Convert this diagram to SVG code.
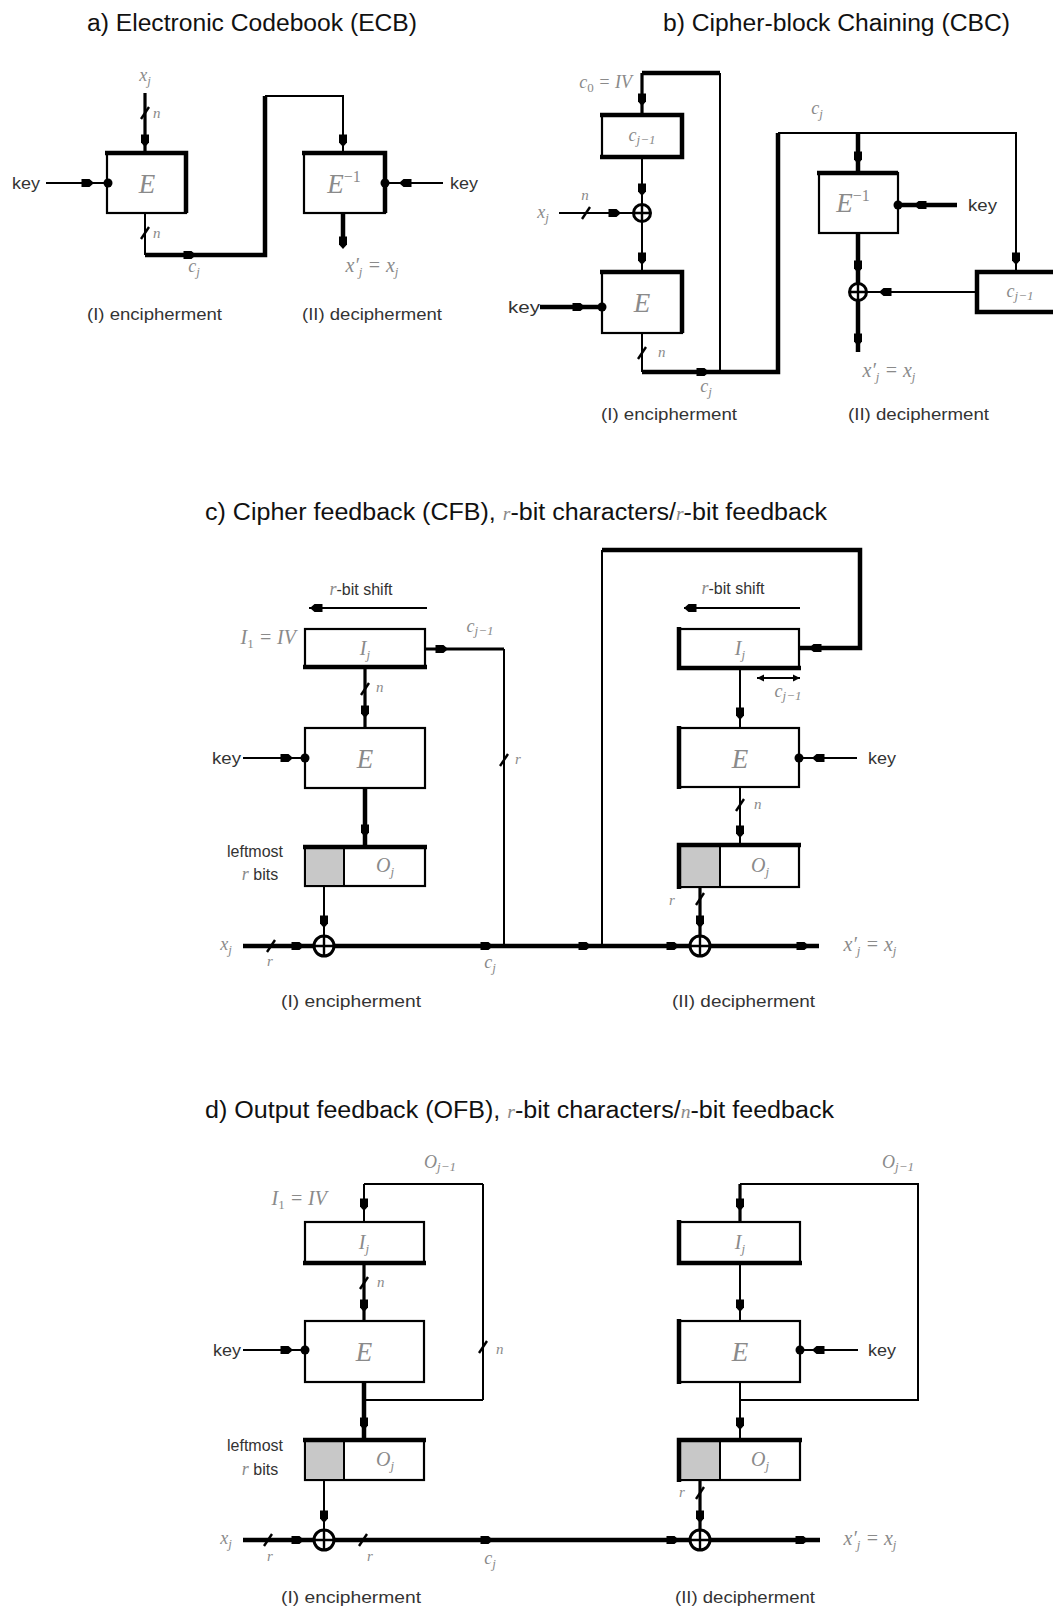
<svg xmlns="http://www.w3.org/2000/svg" xmlns:xlink="http://www.w3.org/1999/xlink" width="1053" height="1611" viewBox="0 0 1053 1611">
<style>
.ln{fill:none;stroke:#000;stroke-width:2}
.md{stroke-width:3.2}
.tk{stroke-width:4.5}
.bx{fill:#fff;stroke:#000;stroke-width:2.2}
.bt{fill:none;stroke:#000;stroke-width:4.5}
.sh{fill:#c8c8c8;stroke:#000;stroke-width:2}
.t{font-family:"Liberation Sans",Arial,sans-serif;fill:#333;font-size:16px}
.ttl{font-family:"Liberation Sans",Arial,sans-serif;fill:#111;font-size:23px}
.m{font-family:"Liberation Serif","Times New Roman",serif;font-style:italic;fill:#8a8a8a;font-size:18px}
.mb{font-size:27px}
.mm{font-size:20px}
.ms{font-size:15px}
.sb{font-size:13px}
.eq{font-size:20px}
.cj{font-size:18px}
.n{font-style:normal}
.xr circle{fill:#fff;stroke:#000;stroke-width:3}
.xr path{fill:none;stroke:#000;stroke-width:2.4}
</style>
<defs>
<path id="mR" d="M-6.5,-4H1.5L6,0L1.5,4H-6.5Z"/>
<path id="mL" d="M6.5,-4H-1.5L-6,0L-1.5,4H6.5Z"/>
<path id="mD" d="M-4,-6.5V1.5L0,6L4,1.5V-6.5Z"/>
<circle id="dot" r="4.5"/>
<path id="sl" d="M-4,6L4,-6" fill="none" stroke="#000" stroke-width="2.4"/>
<g id="xor" class="xr"><circle r="10"/><path d="M-10,0H10M0,-10V10"/></g>
<g id="xor8" class="xr"><circle r="8.5"/><path d="M-8.5,0H8.5M0,-8.5V8.5"/></g>
</defs>
<rect width="1053" height="1611" fill="#fff"/>

<!-- ============ a) ECB ============ -->
<g id="title-a"><text class="ttl" x="87" y="31" textLength="330" lengthAdjust="spacingAndGlyphs">a) Electronic Codebook (ECB)</text></g>
<g id="a-E">
<rect class="bx" x="107" y="153" width="79" height="60"/>
<path class="bt" d="M105,153H186V213"/>
<text class="m mb" x="147" y="193" text-anchor="middle">E</text>
</g>
<g id="a-Einv">
<rect class="bx" x="304" y="153" width="81" height="60"/>
<path class="bt" d="M302,153H385V213"/>
<text class="m mb" x="344" y="193" text-anchor="middle">E<tspan class="n" font-size="16" dy="-11">−1</tspan></text>
</g>
<g id="a-connectors">
<path class="ln md" d="M145,93V153"/>
<use href="#sl" x="145" y="113"/>
<use href="#mD" x="145" y="141"/>
<path class="ln" d="M46,183H107"/>
<use href="#mR" x="88" y="183"/>
<use href="#dot" x="108" y="183"/>
<path class="ln" d="M145,213V255"/>
<use href="#sl" x="145" y="233"/>
<path class="ln tk" d="M145,255H265V96"/>
<path class="ln" d="M265,96H343V153"/>
<use href="#mR" x="190" y="255"/>
<use href="#mD" x="343" y="141"/>
<path class="ln" d="M443,183H385"/>
<use href="#mL" x="405" y="183"/>
<use href="#dot" x="385" y="183"/>
<path class="ln tk" d="M343,213V245"/>
<use href="#mD" x="343" y="243"/>
</g>
<g id="a-labels">
<text class="m" x="145" y="81" text-anchor="middle">x<tspan class="sb" dy="4">j</tspan></text>
<text class="m ms" x="153" y="118">n</text>
<text class="m ms" x="153" y="238">n</text>
<text class="t" x="12" y="189" textLength="28" lengthAdjust="spacingAndGlyphs">key</text>
<text class="t" x="450" y="189" textLength="28" lengthAdjust="spacingAndGlyphs">key</text>
<text class="m" x="194" y="272" text-anchor="middle">c<tspan class="sb" dy="4">j</tspan></text>
<text class="m eq" x="372" y="272" text-anchor="middle">x′<tspan class="sb" dy="4">j</tspan><tspan dy="-4"> = x</tspan><tspan class="sb" dy="4">j</tspan></text>
<text class="t" x="87" y="320" textLength="135" lengthAdjust="spacingAndGlyphs">(I) encipherment</text>
<text class="t" x="302" y="320" textLength="140" lengthAdjust="spacingAndGlyphs">(II) decipherment</text>
</g>

<!-- ============ b) CBC ============ -->
<g id="title-b"><text class="ttl" x="663" y="31" textLength="347" lengthAdjust="spacingAndGlyphs">b) Cipher-block Chaining (CBC)</text></g>
<g id="b-creg1">
<rect class="bx" x="602" y="115" width="80" height="42"/>
<path class="bt" d="M600,115H682V157H600"/>
<text class="m cj" x="642" y="141" text-anchor="middle">c<tspan class="sb" dy="3">j−1</tspan></text>
</g>
<g id="b-xor1"><use href="#xor8" x="642" y="213"/></g>
<g id="b-E">
<rect class="bx" x="602" y="272" width="80" height="61"/>
<path class="bt" d="M600,272H682V333"/>
<text class="m mb" x="642" y="312" text-anchor="middle">E</text>
</g>
<g id="b-Einv">
<rect class="bx" x="819" y="173" width="79" height="60"/>
<path class="bt" d="M817,173H898"/>
<text class="m mb" x="853" y="212" text-anchor="middle">E<tspan class="n" font-size="16" dy="-11">−1</tspan></text>
</g>
<g id="b-xor2"><use href="#xor8" x="858" y="292"/></g>
<g id="b-creg2">
<rect class="bx" x="977" y="272" width="90" height="40"/>
<path class="bt" d="M1060,272H977V312H1060"/>
<text class="m cj" x="1020" y="297" text-anchor="middle">c<tspan class="sb" dy="3">j−1</tspan></text>
</g>
<g id="b-connectors">
<path class="ln tk" d="M642,73H720"/>
<path class="ln" d="M720,73V372"/>
<path class="ln md" d="M642,73V115"/>
<use href="#mD" x="642" y="100"/>
<path class="ln" d="M642,157V205"/>
<use href="#mD" x="642" y="190"/>
<path class="ln" d="M559,213H634"/>
<use href="#sl" x="586" y="213"/>
<use href="#mR" x="615" y="213"/>
<path class="ln" d="M642,221V272"/>
<use href="#mD" x="642" y="259"/>
<path class="ln tk" d="M540,307H602"/>
<use href="#mR" x="579" y="307"/>
<use href="#dot" x="602" y="307"/>
<path class="ln" d="M642,333V372"/>
<use href="#sl" x="642" y="353"/>
<path class="ln tk" d="M642,372H778V133"/>
<use href="#mR" x="703" y="372"/>
<path class="ln" d="M778,133H1016V272"/>
<use href="#mD" x="1016" y="259"/>
<path class="ln tk" d="M858,133V173"/>
<use href="#mD" x="858" y="158"/>
<path class="ln tk" d="M957,205H898"/>
<use href="#mL" x="920" y="205"/>
<use href="#dot" x="898" y="205"/>
<path class="ln tk" d="M858,233V284"/>
<use href="#mD" x="858" y="267"/>
<path class="ln" d="M977,292H866"/>
<use href="#mL" x="885" y="292"/>
<path class="ln tk" d="M858,300V352"/>
<use href="#mD" x="858" y="340"/>
</g>
<g id="b-labels">
<text class="m" x="632" y="88" text-anchor="end">c<tspan class="sb n" dy="4">0</tspan><tspan dy="-4"> = IV</tspan></text>
<text class="m" x="543" y="218" text-anchor="middle">x<tspan class="sb" dy="4">j</tspan></text>
<text class="m ms" x="585" y="200" text-anchor="middle">n</text>
<text class="t" x="508" y="313" textLength="32" lengthAdjust="spacingAndGlyphs">key</text>
<text class="m ms" x="658" y="357">n</text>
<text class="m" x="706" y="392" text-anchor="middle">c<tspan class="sb" dy="4">j</tspan></text>
<text class="m" x="817" y="114" text-anchor="middle">c<tspan class="sb" dy="4">j</tspan></text>
<text class="t" x="968" y="211" textLength="29" lengthAdjust="spacingAndGlyphs">key</text>
<text class="m eq" x="889" y="377" text-anchor="middle">x′<tspan class="sb" dy="4">j</tspan><tspan dy="-4"> = x</tspan><tspan class="sb" dy="4">j</tspan></text>
<text class="t" x="601" y="420" textLength="136" lengthAdjust="spacingAndGlyphs">(I) encipherment</text>
<text class="t" x="848" y="420" textLength="141" lengthAdjust="spacingAndGlyphs">(II) decipherment</text>
</g>

<!-- ============ c) CFB ============ -->
<g id="title-c"><text class="ttl" x="205" y="520" textLength="622" lengthAdjust="spacingAndGlyphs">c) Cipher feedback (CFB), <tspan class="m" font-size="23">r</tspan>-bit characters/<tspan class="m" font-size="23">r</tspan>-bit feedback</text></g>
<g id="c-Ij1">
<rect class="bx" x="305" y="629" width="120" height="38"/>
<path class="bt" d="M303,667H427"/>
<text class="m mm" x="365" y="655" text-anchor="middle">I<tspan class="sb" dy="4">j</tspan></text>
</g>
<g id="c-E1">
<rect class="bx" x="305" y="728" width="120" height="60"/>
<text class="m mb" x="365" y="768" text-anchor="middle">E</text>
</g>
<g id="c-Oj1">
<rect class="bx" x="305" y="847" width="120" height="39"/>
<rect class="sh" x="305" y="847" width="39" height="39"/>
<path class="bt" d="M303,847H427"/>
<text class="m mm" x="385" y="872" text-anchor="middle">O<tspan class="sb" dy="4">j</tspan></text>
</g>
<g id="c-xor1"><use href="#xor" x="324" y="946"/></g>
<g id="c-Ij2">
<rect class="bx" x="679" y="629" width="120" height="39"/>
<path class="bt" d="M679,627V668H801"/>
<text class="m mm" x="740" y="655" text-anchor="middle">I<tspan class="sb" dy="4">j</tspan></text>
</g>
<g id="c-E2">
<rect class="bx" x="679" y="728" width="120" height="59"/>
<path class="bt" d="M679,726V789"/>
<text class="m mb" x="740" y="768" text-anchor="middle">E</text>
</g>
<g id="c-Oj2">
<rect class="bx" x="679" y="845" width="120" height="42"/>
<rect class="sh" x="679" y="845" width="41" height="42"/>
<path class="bt" d="M679,889V845H801"/>
<text class="m mm" x="760" y="872" text-anchor="middle">O<tspan class="sb" dy="4">j</tspan></text>
</g>
<g id="c-xor2"><use href="#xor" x="700" y="946"/></g>
<g id="c-connectors">
<path class="ln" d="M427,608H309"/>
<use href="#mL" x="316" y="608"/>
<path class="ln md" d="M425,649H504"/>
<use href="#mR" x="442" y="649"/>
<path class="ln" d="M504,649V946"/>
<use href="#sl" x="504" y="760"/>
<path class="ln md" d="M365,667V728"/>
<use href="#sl" x="365" y="689"/>
<use href="#mD" x="365" y="712"/>
<path class="ln" d="M243,758H305"/>
<use href="#mR" x="287" y="758"/>
<use href="#dot" x="305" y="758"/>
<path class="ln tk" d="M365,788V847"/>
<use href="#mD" x="365" y="831"/>
<path class="ln" d="M324,886V936"/>
<use href="#mD" x="324" y="922"/>
<path class="ln tk" d="M243,946H314M334,946H690M710,946H819"/>
<use href="#sl" x="271" y="946"/>
<use href="#mR" x="298" y="946"/>
<use href="#mR" x="487" y="946"/>
<use href="#mR" x="585" y="946"/>
<path class="ln" d="M602,946V550"/>
<path class="ln tk" d="M602,550H860V648H800"/>
<use href="#mL" x="815" y="648"/>
<path class="ln" d="M800,608H684"/>
<use href="#mL" x="690" y="608"/>
<path class="ln" d="M757,678H800" stroke-width="1.6"/>
<path d="M757,678L764,674.5V681.5Z M800,678L793,674.5V681.5Z"/>
<path class="ln" d="M740,668V728"/>
<use href="#mD" x="740" y="714"/>
<path class="ln" d="M857,758H799"/>
<use href="#mL" x="818" y="758"/>
<use href="#dot" x="799" y="758"/>
<path class="ln" d="M740,787V845" stroke-width="2.5"/>
<use href="#sl" x="740" y="805"/>
<use href="#mD" x="740" y="832"/>
<path class="ln md" d="M700,887V936"/>
<use href="#sl" x="700" y="899"/>
<use href="#mD" x="700" y="922"/>
<use href="#mR" x="673" y="946"/>
<use href="#mR" x="803" y="946"/>
</g>
<g id="c-labels">
<text class="t" x="361" y="595" text-anchor="middle" font-size="14"><tspan class="m" font-size="15">r</tspan>-bit shift</text>
<text class="m mm" x="296" y="644" text-anchor="end">I<tspan class="sb n" dy="4">1</tspan><tspan dy="-4"> = IV</tspan></text>
<text class="m cj" x="480" y="632" text-anchor="middle">c<tspan class="sb" dy="3">j−1</tspan></text>
<text class="m ms" x="515" y="764">r</text>
<text class="m ms" x="376" y="692">n</text>
<text class="t" x="212" y="764" textLength="29" lengthAdjust="spacingAndGlyphs">key</text>
<text class="t" x="255" y="857" text-anchor="middle" font-size="15">leftmost</text>
<text class="t" x="260" y="880" text-anchor="middle" font-size="15"><tspan class="m" font-size="16">r</tspan> bits</text>
<text class="m" x="226" y="950" text-anchor="middle">x<tspan class="sb" dy="4">j</tspan></text>
<text class="m ms" x="270" y="966" text-anchor="middle">r</text>
<text class="m" x="490" y="968" text-anchor="middle">c<tspan class="sb" dy="4">j</tspan></text>
<text class="t" x="281" y="1007" textLength="140" lengthAdjust="spacingAndGlyphs">(I) encipherment</text>
<text class="t" x="733" y="594" text-anchor="middle" font-size="14"><tspan class="m" font-size="15">r</tspan>-bit shift</text>
<text class="m cj" x="788" y="697" text-anchor="middle">c<tspan class="sb" dy="3">j−1</tspan></text>
<text class="t" x="868" y="764" textLength="28" lengthAdjust="spacingAndGlyphs">key</text>
<text class="m ms" x="754" y="809">n</text>
<text class="m ms" x="672" y="905" text-anchor="middle">r</text>
<text class="m eq" x="870" y="951" text-anchor="middle">x′<tspan class="sb" dy="4">j</tspan><tspan dy="-4"> = x</tspan><tspan class="sb" dy="4">j</tspan></text>
<text class="t" x="672" y="1007" textLength="143" lengthAdjust="spacingAndGlyphs">(II) decipherment</text>
</g>

<!-- ============ d) OFB ============ -->
<g id="title-d"><text class="ttl" x="205" y="1118" textLength="629" lengthAdjust="spacingAndGlyphs">d) Output feedback (OFB), <tspan class="m" font-size="23">r</tspan>-bit characters/<tspan class="m" font-size="23">n</tspan>-bit feedback</text></g>
<g id="d-Ij1">
<rect class="bx" x="305" y="1222" width="119" height="41"/>
<path class="bt" d="M303,1263H426"/>
<text class="m mm" x="364" y="1249" text-anchor="middle">I<tspan class="sb" dy="4">j</tspan></text>
</g>
<g id="d-E1">
<rect class="bx" x="305" y="1321" width="119" height="61"/>
<text class="m mb" x="364" y="1361" text-anchor="middle">E</text>
</g>
<g id="d-Oj1">
<rect class="bx" x="305" y="1440" width="119" height="40"/>
<rect class="sh" x="305" y="1440" width="39" height="40"/>
<path class="bt" d="M303,1440H426"/>
<text class="m mm" x="385" y="1466" text-anchor="middle">O<tspan class="sb" dy="4">j</tspan></text>
</g>
<g id="d-xor1"><use href="#xor" x="324" y="1540"/></g>
<g id="d-Ij2">
<rect class="bx" x="679" y="1222" width="121" height="41"/>
<path class="bt" d="M679,1220V1263H802"/>
<text class="m mm" x="740" y="1249" text-anchor="middle">I<tspan class="sb" dy="4">j</tspan></text>
</g>
<g id="d-E2">
<rect class="bx" x="679" y="1321" width="121" height="61"/>
<path class="bt" d="M679,1319V1384"/>
<text class="m mb" x="740" y="1361" text-anchor="middle">E</text>
</g>
<g id="d-Oj2">
<rect class="bx" x="679" y="1440" width="121" height="40"/>
<rect class="sh" x="679" y="1440" width="41" height="40"/>
<path class="bt" d="M679,1482V1440H802"/>
<text class="m mm" x="760" y="1466" text-anchor="middle">O<tspan class="sb" dy="4">j</tspan></text>
</g>
<g id="d-xor2"><use href="#xor" x="700" y="1540"/></g>
<g id="d-connectors">
<path class="ln" d="M364,1184H483" stroke-width="2.5"/>
<path class="ln" d="M483,1184V1400" stroke-width="4"/>
<path class="ln" d="M483,1400H364"/>
<use href="#sl" x="483" y="1347"/>
<path class="ln" d="M364,1184V1222" stroke-width="4"/>
<use href="#mD" x="364" y="1205"/>
<path class="ln md" d="M364,1263V1321"/>
<use href="#sl" x="364" y="1283"/>
<use href="#mD" x="364" y="1306"/>
<path class="ln" d="M243,1350H305"/>
<use href="#mR" x="287" y="1350"/>
<use href="#dot" x="305" y="1350"/>
<path class="ln tk" d="M364,1382V1440"/>
<use href="#mD" x="364" y="1424"/>
<path class="ln" d="M324,1480V1530"/>
<use href="#mD" x="324" y="1517"/>
<path class="ln tk" d="M243,1540H314M334,1540H690M710,1540H820"/>
<use href="#sl" x="268" y="1540"/>
<use href="#mR" x="298" y="1540"/>
<use href="#sl" x="363" y="1540"/>
<use href="#mR" x="487" y="1540"/>
<path class="ln" d="M740,1184H918V1400H740"/>
<path class="ln md" d="M740,1184V1222"/>
<use href="#mD" x="740" y="1205"/>
<path class="ln" d="M740,1263V1321" stroke-width="2.5"/>
<use href="#mD" x="740" y="1306"/>
<path class="ln" d="M858,1350H800"/>
<use href="#mL" x="818" y="1350"/>
<use href="#dot" x="800" y="1350"/>
<path class="ln" d="M740,1382V1440" stroke-width="2.5"/>
<use href="#mD" x="740" y="1424"/>
<path class="ln md" d="M700,1480V1530"/>
<use href="#sl" x="700" y="1493"/>
<use href="#mD" x="700" y="1517"/>
<use href="#mR" x="673" y="1540"/>
<use href="#mR" x="802" y="1540"/>
</g>
<g id="d-labels">
<text class="m cj" x="440" y="1168" text-anchor="middle">O<tspan class="sb" dy="3">j−1</tspan></text>
<text class="m mm" x="327" y="1205" text-anchor="end">I<tspan class="sb n" dy="4">1</tspan><tspan dy="-4"> = IV</tspan></text>
<text class="m ms" x="377" y="1287">n</text>
<text class="t" x="213" y="1356" textLength="28" lengthAdjust="spacingAndGlyphs">key</text>
<text class="m ms" x="496" y="1354">n</text>
<text class="t" x="255" y="1451" text-anchor="middle" font-size="15">leftmost</text>
<text class="t" x="260" y="1475" text-anchor="middle" font-size="15"><tspan class="m" font-size="16">r</tspan> bits</text>
<text class="m" x="226" y="1544" text-anchor="middle">x<tspan class="sb" dy="4">j</tspan></text>
<text class="m ms" x="270" y="1561" text-anchor="middle">r</text>
<text class="m ms" x="370" y="1561" text-anchor="middle">r</text>
<text class="m" x="490" y="1564" text-anchor="middle">c<tspan class="sb" dy="4">j</tspan></text>
<text class="t" x="281" y="1603" textLength="140" lengthAdjust="spacingAndGlyphs">(I) encipherment</text>
<text class="m cj" x="898" y="1168" text-anchor="middle">O<tspan class="sb" dy="3">j−1</tspan></text>
<text class="t" x="868" y="1356" textLength="28" lengthAdjust="spacingAndGlyphs">key</text>
<text class="m ms" x="682" y="1497" text-anchor="middle">r</text>
<text class="m eq" x="870" y="1545" text-anchor="middle">x′<tspan class="sb" dy="4">j</tspan><tspan dy="-4"> = x</tspan><tspan class="sb" dy="4">j</tspan></text>
<text class="t" x="675" y="1603" textLength="140" lengthAdjust="spacingAndGlyphs">(II) decipherment</text>
</g>
</svg>
